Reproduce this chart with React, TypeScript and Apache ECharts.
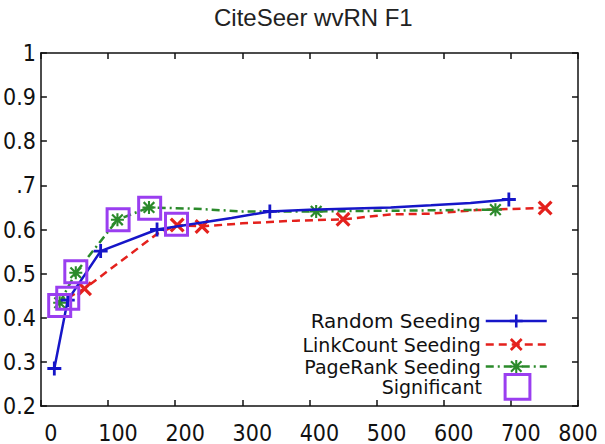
import React, { useEffect, useRef } from 'react';
import * as echarts from 'echarts';

// ---- data ----
const xTickLabels = ['0', '100', '200', '300', '400', '500', '600', '700', '800'];
const yTickLabels = ['0.2', '0.3', '0.4', '0.5', '0.6', '.7', '0.8', '0.9', '1'];

const seriesNames = ['Random Seeding', 'LinkCount Seeding', 'PageRank Seeding', 'Significant'];

const randomX = [20, 40, 89, 173, 284, 341, 400, 521, 581, 640, 697];
const randomY = [0.285, 0.44, 0.551, 0.6, 0.626, 0.641, 0.645, 0.65, 0.655, 0.66, 0.668];
const randomMarked = [0, 1, 2, 3, 5, 10];

const linkX = [40, 65, 173, 203, 240, 300, 380, 450, 520, 580, 650, 751];
const linkY = [0.445, 0.466, 0.59, 0.61, 0.607, 0.614, 0.62, 0.623, 0.634, 0.636, 0.644, 0.649];
const linkMarked = [1, 3, 4, 7, 11];

const pageX = [28, 52, 114, 161, 230, 300, 410, 550, 677];
const pageY = [0.434, 0.502, 0.622, 0.65, 0.647, 0.641, 0.641, 0.643, 0.645];
const pageMarked = [0, 1, 2, 3, 6, 8];

const sigX = [28, 40, 52, 115, 162, 202];
const sigY = [0.428, 0.444, 0.504, 0.622, 0.648, 0.612];

// ---- styles ----
const BLUE = '#1616c8';
const RED = '#e4211d';
const GREEN = '#2b8a2b';
const PURPLE = '#9a3ef0';
const INK = '#111';
const NARROW = "'Liberation Sans Narrow', 'DejaVu Sans Condensed', 'Liberation Sans', sans-serif";
const LEGEND_FONT = "'DejaVu Sans', 'Liberation Sans', sans-serif";

const PLUS = 'path://M4,0 L6,0 L6,4 L10,4 L10,6 L6,6 L6,10 L4,10 L4,6 L0,6 L0,4 L4,4 Z';
const CROSS = 'path://M1.5,0 L5,3.5 L8.5,0 L10,1.5 L6.5,5 L10,8.5 L8.5,10 L5,6.5 L1.5,10 L0,8.5 L3.5,5 L0,1.5 Z';
const STAR =
  'path://M4.2,0 L5.8,0 L5.8,4.2 L10,4.2 L10,5.8 L5.8,5.8 L5.8,10 L4.2,10 L4.2,5.8 L0,5.8 L0,4.2 L4.2,4.2 Z ' +
  'M1.5,0.3 L5,3.8 L8.5,0.3 L9.7,1.5 L6.2,5 L9.7,8.5 L8.5,9.7 L5,6.2 L1.5,9.7 L0.3,8.5 L3.8,5 L0.3,1.5 Z';

function build(xs: number[], ys: number[], marked: number[]) {
  return xs.map((x, i) =>
    marked.indexOf(i) >= 0 ? { value: [x, ys[i]] } : { value: [x, ys[i]], symbol: 'none' }
  );
}

function makeOption(): any {
  const axisLine = { show: true, onZero: false, lineStyle: { color: INK, width: 1.5 } };
  const axisTick = { show: true, inside: true, length: 6, lineStyle: { color: INK, width: 1.5 } };
  const legendBase = {
    orient: 'horizontal',
    align: 'right',
    right: 57,
    padding: 0,
    itemWidth: 61,
    itemHeight: 16,
    selectedMode: false,
    textStyle: { fontFamily: LEGEND_FONT, color: INK },
  };
  return {
    animation: false,
    backgroundColor: '#fff',
    title: {
      text: 'CiteSeer wvRN F1',
      left: 209,
      top: 0,
      textStyle: { fontSize: 24, fontFamily: "'Liberation Sans', Arial, sans-serif", fontWeight: 'normal', color: '#222' },
    },
    grid: { left: 38, right: 27, top: 53, bottom: 37, containLabel: false },
    legend: [
      {
        ...legendBase,
        top: 311,
        data: [
          {
            name: seriesNames[0],
            textStyle: { fontSize: 20, lineHeight: 20 },
            itemStyle: { color: BLUE, borderWidth: 0 },
            lineStyle: { color: BLUE, width: 2.5, type: 'solid' },
          },
        ],
      },
      {
        ...legendBase,
        top: 335,
        data: [
          {
            name: seriesNames[1],
            textStyle: { fontSize: 19, lineHeight: 19 },
            itemStyle: { color: RED, borderWidth: 0 },
            lineStyle: { color: RED, width: 2.5, type: [8, 5] },
          },
        ],
      },
      {
        ...legendBase,
        top: 357,
        data: [
          {
            name: seriesNames[2],
            textStyle: { fontSize: 19, lineHeight: 19 },
            itemStyle: { color: GREEN, borderWidth: 0 },
            lineStyle: { color: GREEN, width: 2.5, type: [8, 4, 2, 4] },
          },
        ],
      },
      {
        ...legendBase,
        top: 373,
        itemHeight: 31,
        data: [
          {
            name: seriesNames[3],
            textStyle: { fontSize: 19, lineHeight: 19 },
            itemStyle: { color: 'transparent', borderColor: PURPLE, borderWidth: 3 },
            lineStyle: { width: 0, opacity: 0 },
          },
        ],
      },
    ],
    xAxis: [
      {
        type: 'value',
        position: 'bottom',
        min: 0,
        max: 800,
        interval: 100,
        axisLine,
        axisTick,
        splitLine: { show: false },
        axisLabel: {
          margin: 15,
          formatter: (v: number) => {
            const i = Math.round(v / 100);
            const s = xTickLabels[i] ?? '';
            return i === xTickLabels.length - 1 ? `{e|${s}}` : `{n|${s}}`;
          },
          rich: {
            n: { fontSize: 23, fontFamily: NARROW, color: INK, padding: [0, 0, 0, 20] },
            e: { fontSize: 23, fontFamily: NARROW, color: INK },
          },
        },
      },
      {
        type: 'value',
        position: 'top',
        min: 0,
        max: 800,
        interval: 100,
        axisLine,
        axisTick,
        splitLine: { show: false },
        axisLabel: { show: false },
      },
    ],
    yAxis: [
      {
        type: 'value',
        position: 'left',
        min: 0.2,
        max: 1,
        interval: 0.1,
        axisLine,
        axisTick,
        splitLine: { show: false },
        axisLabel: {
          margin: 5,
          fontSize: 23,
          fontFamily: NARROW,
          color: INK,
          formatter: (v: number) => yTickLabels[Math.round((v - 0.2) / 0.1)] ?? '',
        },
      },
      {
        type: 'value',
        position: 'right',
        min: 0.2,
        max: 1,
        interval: 0.1,
        axisLine,
        axisTick,
        splitLine: { show: false },
        axisLabel: { show: false },
      },
    ],
    series: [
      {
        name: seriesNames[0],
        type: 'line',
        xAxisIndex: 0,
        yAxisIndex: 0,
        data: build(randomX, randomY, randomMarked),
        symbol: PLUS,
        symbolSize: 14,
        showAllSymbol: true,
        lineStyle: { color: BLUE, width: 2.5, type: 'solid' },
        itemStyle: { color: BLUE },
        z: 3,
      },
      {
        name: seriesNames[1],
        type: 'line',
        xAxisIndex: 0,
        yAxisIndex: 0,
        data: build(linkX, linkY, linkMarked),
        symbol: CROSS,
        symbolSize: 15,
        showAllSymbol: true,
        lineStyle: { color: RED, width: 2.5, type: [8, 5] },
        itemStyle: { color: RED },
        z: 2,
      },
      {
        name: seriesNames[2],
        type: 'line',
        xAxisIndex: 0,
        yAxisIndex: 0,
        data: build(pageX, pageY, pageMarked),
        symbol: STAR,
        symbolSize: 13,
        showAllSymbol: true,
        lineStyle: { color: GREEN, width: 2.5, type: [8, 4, 2, 4] },
        itemStyle: { color: GREEN },
        z: 2,
      },
      {
        name: seriesNames[3],
        type: 'line',
        xAxisIndex: 0,
        yAxisIndex: 0,
        data: sigX.map((x, i) => [x, sigY[i]]),
        symbol: 'rect',
        symbolSize: 22,
        showAllSymbol: true,
        lineStyle: { width: 0, opacity: 0 },
        itemStyle: { color: 'transparent', borderColor: PURPLE, borderWidth: 3 },
        z: 4,
      },
    ],
  };
}

export default function App() {
  const ref = useRef<HTMLDivElement>(null);
  useEffect(() => {
    document.body.style.margin = '0';
    if (!ref.current) return;
    const chart = echarts.init(ref.current, undefined, { renderer: 'svg' });
    chart.setOption(makeOption());
    return () => {
      chart.dispose();
    };
  }, []);
  return <div ref={ref} style={{ width: 605, height: 444 }} />;
}
